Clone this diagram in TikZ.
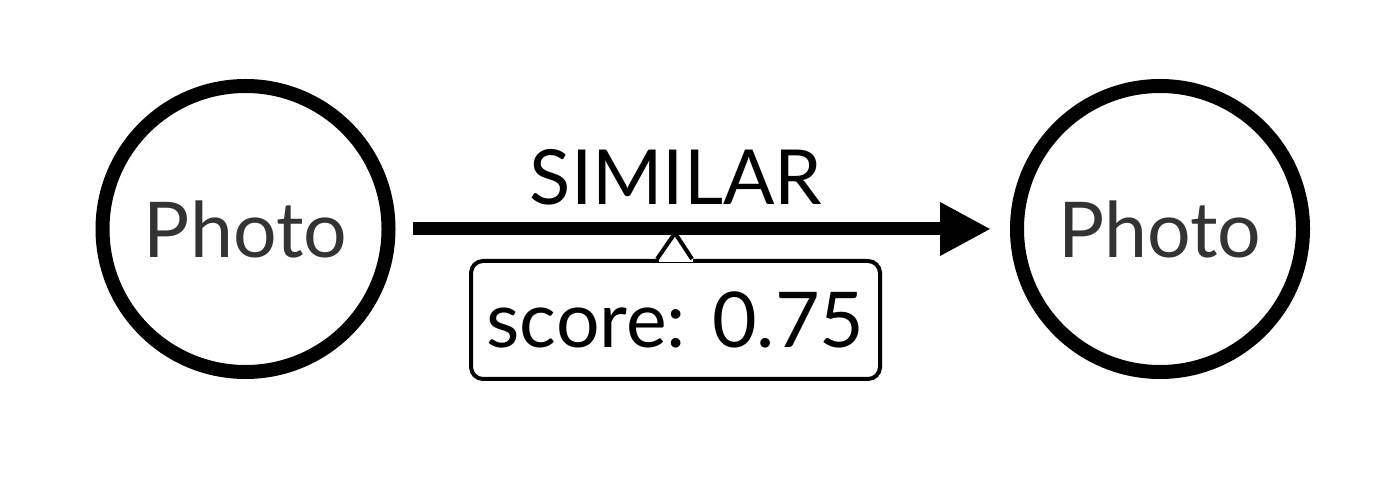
\documentclass[tikz,border=0pt]{standalone}
\usepackage{fontspec}
\setmainfont{Lato}
\usetikzlibrary{arrows.meta, calc}
\tikzset{
  nodo/.style = {circle, draw, line width = 7pt, minimum size = 143pt, inner sep = 0pt, text = black!80, font = \fontsize{38.5}{46}\selectfont},
  relazione/.style = {line width = 6.5pt, -{Triangle[length = 25.5pt, width = 25pt]}},
  proprieta/.style = {draw, rounded corners = 6pt, line width = 2pt, minimum width = 204.5pt, minimum height = 59pt, font = \fontsize{38.5}{46}\selectfont}
}

\begin{document}
\begin{tikzpicture}[x = 0.5pt, y = -0.5pt]
    % Area
    \useasboundingbox (0,0) rectangle (1400,485);
    % Nodi
    \node[nodo] (foto1) at (245.5,229) {Photo};
    \node[nodo] (foto2) at (1160,229) {Photo};
    % Etichetta della relazione
    \node[anchor = base, font = \fontsize{38}{46}\selectfont] (tipo) at (676,205) {SIMILAR};
    % Riquadro con la proprieta
    \node[proprieta] (prop) at (675.5,320) {score: 0.75};
    \coordinate (punta) at (675,233);
    % linguetta verso la freccia
    \fill[white] ($(prop.north)+(-17,-3)$) rectangle ($(prop.north)+(17,3)$);
    \draw[line width = 2pt] ($(prop.north)+(-18.5,0)$) -- (punta) -- ($(prop.north)+(16.5,0)$);
    % Freccia
    \draw[relazione, shorten <= 8.75pt, shorten >= 9.5pt] (foto1) -- (foto2);
\end{tikzpicture}
\end{document}
